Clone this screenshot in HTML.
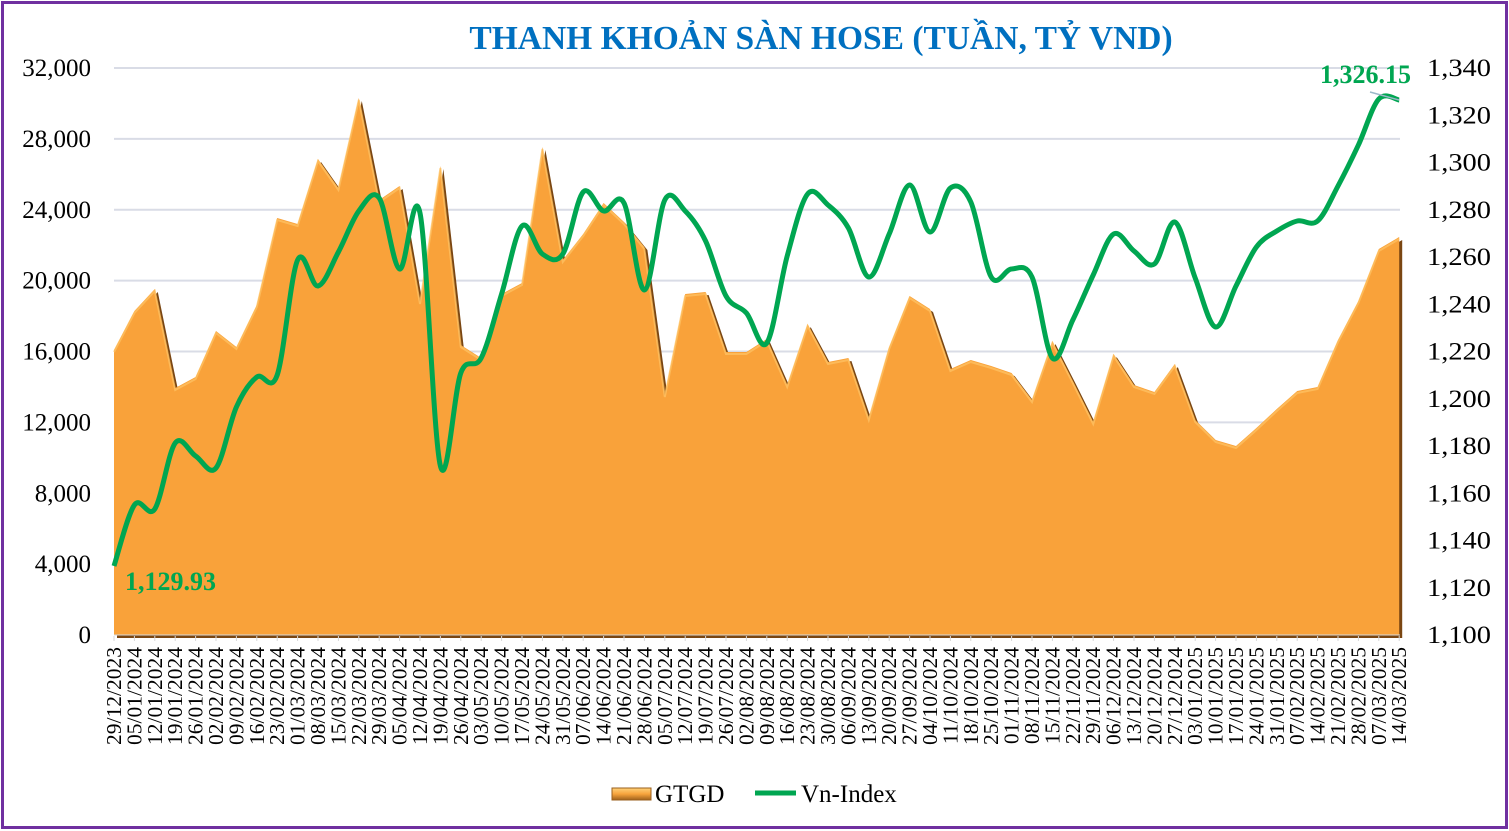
<!DOCTYPE html>
<html><head><meta charset="utf-8">
<style>
html,body{margin:0;padding:0;background:#fff;}
svg{display:block;}
text{font-family:"Liberation Serif","DejaVu Serif",serif;}
</style></head>
<body>
<svg id="s" width="1509" height="831" viewBox="0 0 1509 831" xmlns="http://www.w3.org/2000/svg">
<defs>
<linearGradient id="sw" x1="0" y1="0" x2="0" y2="1">
<stop offset="0" stop-color="#ffd27a"/><stop offset="0.5" stop-color="#f7a33c"/><stop offset="1" stop-color="#a0621c"/>
</linearGradient>
</defs>
<rect x="2.5" y="2.5" width="1504" height="825" fill="#fff" stroke="#7030A0" stroke-width="3"/>
<text x="821" y="49" text-anchor="middle" font-size="33.5" font-weight="bold" fill="#0070C0">THANH KHOẢN SÀN HOSE (TUẦN, TỶ VND)</text>
<g id="grid" stroke="#d9dce6" stroke-width="2"></g>
<g id="area"></g>
<g id="line"></g>
<g id="ylab" font-size="25" fill="#000"></g>
<g id="xlab" font-size="21.5" fill="#000"></g>
<text x="125" y="590" font-size="26" font-weight="bold" fill="#00A651">1,129.93</text>
<text x="1320" y="83" font-size="26" font-weight="bold" fill="#00A651">1,326.15</text>
<line x1="1370" y1="92" x2="1399" y2="100" stroke="#9ab8c8" stroke-width="1.5"/>
<rect x="612" y="788" width="39" height="12" fill="url(#sw)" stroke="#9a5f1c" stroke-width="1"/>
<text x="655" y="802" font-size="25" fill="#000">GTGD</text>
<line x1="755" y1="793" x2="796" y2="793" stroke="#00A651" stroke-width="5"/>
<text x="801" y="802" font-size="25" fill="#000">Vn-Index</text>
</svg>
<script>
var NS="http://www.w3.org/2000/svg";
function el(t,a,p){var e=document.createElementNS(NS,t);for(var k in a)e.setAttribute(k,a[k]);p.appendChild(e);return e;}
var X0=114,DX=20.4,Y0=635,H=567;
var g=document.getElementById('grid');
for(var i=1;i<=8;i++){var y=Y0-H*i/8;el('line',{x1:114,y1:y,x2:1400,y2:y},g);}
var area=[350,311,289,388,377,331,347,305,218,224,159,188,98,200,186,302,166,345,358,294,283,147,260,234,203,222,247,395,294,292,352,352,339,385,324,362,358,418,347,296,309,369,360,366,373,400,341,381,422,354,385,392,364,420,440,446,428,409,391,387,340,301,249,237];
var line=[566,505,509,443,456,468,407,377,375,260,286,252,211,198,269,213,466,373,358,294,226,254,254,192,211,203,290,200,211,241,296,313,343,256,194,205,228,277,234,185,232,188,202,277,269,277,358,320,275,234,251,264,222,278,327,286,247,231,221,221,186,145,99,100];
var a=document.getElementById('area');
var d='M'+X0+','+Y0;
for(i=0;i<area.length;i++)d+=' L'+(X0+DX*i).toFixed(1)+','+area[i];
var xe=X0+DX*(area.length-1);
d+=' L'+xe+','+Y0+' Z';
el('path',{d:d,fill:'#7a4612',transform:'translate(3,3)'},a);
el('path',{d:d,fill:'#F9A23A'},a);
var d2='';for(i=0;i<area.length;i++)d2+=(i?' L':'M')+(X0+DX*i).toFixed(1)+','+(area[i]+2);
el('path',{d:d2,fill:'none',stroke:'#ffc566',"stroke-width":2,opacity:0.7},a);
el('line',{x1:X0,y1:Y0,x2:1400,y2:Y0,stroke:'#d9d9d9',"stroke-width":1},a);
var p=line.map(function(v,i){return [X0+DX*i,v];});
var s='M'+p[0][0]+','+p[0][1];
for(i=0;i<p.length-1;i++){
 var p0=p[i>0?i-1:i],p1=p[i],p2=p[i+1],p3=p[i+2<p.length?i+2:i+1];
 var c1=[p1[0]+(p2[0]-p0[0])/6,p1[1]+(p2[1]-p0[1])/6];
 var c2=[p2[0]-(p3[0]-p1[0])/6,p2[1]-(p3[1]-p1[1])/6];
 s+=' C'+c1[0].toFixed(1)+','+c1[1].toFixed(1)+' '+c2[0].toFixed(1)+','+c2[1].toFixed(1)+' '+p2[0].toFixed(1)+','+p2[1];
}
el('path',{d:s,fill:'none',stroke:'#00A651',"stroke-width":5,"stroke-linejoin":"round"},document.getElementById('line'));
var yl=document.getElementById('ylab');
for(i=0;i<=8;i++){var y=Y0-H*i/8;var v=(4000*i).toLocaleString('en-US');var t=el('text',{x:91,y:y+8,"text-anchor":"end"},yl);t.textContent=v;}
for(i=0;i<=12;i++){var y=Y0-H*i/12;var v=(1100+20*i).toLocaleString('en-US');var t=el('text',{x:1427,y:y+8,textLength:64,lengthAdjust:"spacingAndGlyphs"},yl);t.textContent=v;}
var xl=document.getElementById('xlab');
var dt=new Date(Date.UTC(2023,11,29));
for(i=0;i<64;i++){
 var dd=new Date(dt.getTime()+i*7*86400000);
 var str=('0'+dd.getUTCDate()).slice(-2)+'/'+('0'+(dd.getUTCMonth()+1)).slice(-2)+'/'+dd.getUTCFullYear();
 var x=X0+DX*i+7;
 var t=el('text',{x:0,y:0,"text-anchor":"end",transform:'translate('+x.toFixed(1)+',647) rotate(-90)'},xl);t.textContent=str;
 el('line',{x1:X0+DX*i,y1:636,x2:X0+DX*i,y2:641,stroke:'#d9d9d9'},xl);
}
</script>
</body></html>
